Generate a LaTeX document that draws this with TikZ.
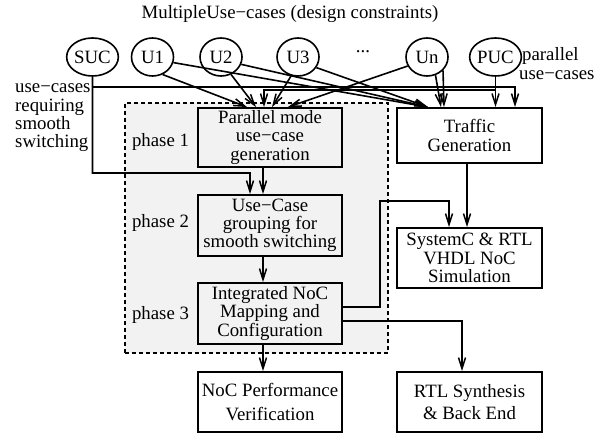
\documentclass[tikz,border=0pt]{standalone}
\usepackage{fontspec}
\setmainfont{Liberation Serif}
\usetikzlibrary{arrows.meta,shapes.geometric}
\begin{document}
\begin{tikzpicture}[x=1bp,y=-1bp,
  font=\fontsize{18.8bp}{18.3bp}\selectfont,
  box/.style={draw, line width=1.9bp, minimum width=144bp, minimum height=59bp, inner sep=0pt, align=center},
  phasebox/.style={box, fill=black!5},
  uc/.style={draw, ellipse, line width=1.6bp, minimum width=42bp, minimum height=38bp, inner sep=0pt},
  conn/.style={line width=1.6bp, -{Straight Barb[length=11bp,width=7bp,line width=1.5bp]}},
  region/.style={draw, line width=1.6bp, dash pattern=on 4bp off 3bp, fill=black!5, inner sep=0pt},
  lbl/.style={inner sep=0pt, align=left}]
\useasboundingbox (0,0) rectangle (597,433);

% background region
\node[region, minimum width=263bp, minimum height=250bp] (reg) at (256.5,228) {};

% title
\node[inner sep=0pt] (title) at (290,14) {MultipleUse−cases (design constraints)};

% use-case circles
\node[uc] (suc) at (92.5,57) {SUC};
\node[uc] (u1) at (152.5,57) {U1};
\node[uc] (u2) at (221,57) {U2};
\node[uc] (u3) at (298,57) {U3};
\node[inner sep=0pt] (dots) at (363,52) {...};
\node[uc] (un) at (427,57) {Un};
\node[uc] (puc) at (495.5,57) {PUC};

% side labels
\node[lbl, anchor=west] (smooth) at (15,118) {use−cases\\requiring\\smooth\\switching};
\node[lbl, anchor=west] (par1) at (522,56) {parallel};
\node[lbl, anchor=west] (par2) at (519,75) {use−cases};

% phase labels
\node[inner sep=0pt] (ph1) at (160.5,142) {phase 1};
\node[inner sep=0pt] (ph2) at (160.5,223) {phase 2};
\node[inner sep=0pt] (ph3) at (160.5,315) {phase 3};

% boxes
\node[phasebox] (p1) at (270,137.5) {Parallel mode\\use−case\\generation};
\node[phasebox, minimum height=61bp] (p2) at (270,225.5) {Use−Case\\grouping for\\smooth switching};
\node[phasebox, minimum height=61bp] (p3) at (270,313.5) {Integrated NoC\\Mapping and\\Configuration};
\node[box, minimum height=60bp] (noc) at (270,402) {NoC Performance\\[5bp]Verification};
\node[box, minimum width=145bp, minimum height=55bp] (tg) at (469.5,135.5) {Traffic\\Generation};
\node[box, minimum width=145bp, minimum height=60bp] (sim) at (469.5,258) {SystemC \& RTL\\VHDL NoC\\Simulation};
\node[box, minimum width=145bp, minimum height=60bp] (rtl) at (469.5,402) {RTL Synthesis\\[4bp]\& Back End};

% smooth use-cases
\draw[conn] (suc.south) |- (250,173) -- ([xshift=-20bp]p2.north);
\draw[conn] ([yshift=-10bp]suc.south) -| ([xshift=45.5bp]tg.north);

% parallel use-cases
\draw[conn] (puc.south) -- (puc.south |- tg.north);
\draw[conn] ([yshift=-13bp]puc.south) -| ([xshift=-6bp]p1.north);

% individual use-cases
\draw[conn] (u1.-60) -- ([xshift=-23bp]p1.north);
\draw[conn] (u1.-15) -- ([xshift=-41.5bp]tg.north);
\draw[conn] (u2.-60) -- ([xshift=-14bp]p1.north);
\draw[conn] (u2.-20) -- ([xshift=-41.5bp]tg.north);
\draw[conn] (u3.-110) -- ([xshift=2bp]p1.north);
\draw[conn] (u3.-30) -- ([xshift=-41.5bp]tg.north);
\draw[conn] (un.-155) -- ([xshift=18bp]p1.north);
\draw[conn] (un.-65) -- ([xshift=-28.5bp]tg.north);
\draw[conn] (un.-40) -- ([xshift=-25.5bp]tg.north);

% flow
\draw[conn] ([xshift=-7bp]p1.south) -- ([xshift=-7bp]p2.north);
\draw[conn] ([xshift=-7bp]p2.south) -- ([xshift=-7bp]p3.north);
\draw[conn] ([xshift=-7bp]p3.south) -- ([xshift=-7bp]noc.north);
\draw[conn] ([xshift=-2.5bp]tg.south) -- ([xshift=-2.5bp]sim.north);
\draw[conn] ([yshift=6.5bp]p3.east) -- ++(37,0) |- (449,201) -- ([xshift=-20.5bp]sim.north);
\draw[conn] ([yshift=-7.5bp]p3.east) -| ([xshift=-7.5bp]rtl.north);
\end{tikzpicture}
\end{document}
